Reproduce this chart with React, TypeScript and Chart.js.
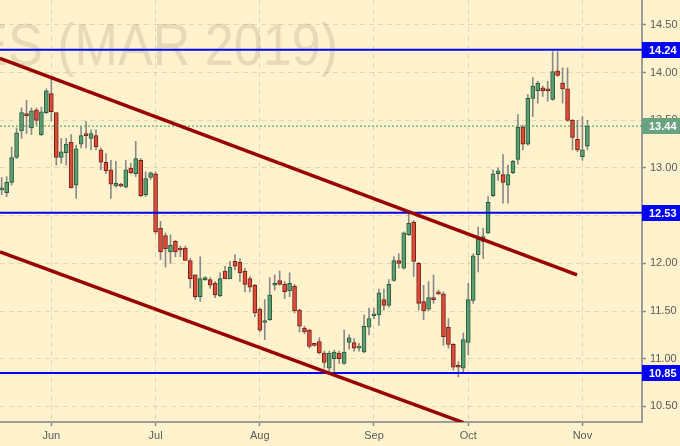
import React, { useEffect, useRef } from 'react';
import { Chart, registerables } from 'chart.js';

Chart.register(...registerables);

// Trading sessions: index 0 = 1 Jun 2018; the first visible session is 10 sessions earlier
const FIRST_SESSION = -10;

const opens = [
  12.77, 12.74, 12.85, 13.11, 13.39, 13.57, 13.42, 13.61, 13.35, 13.58,
  13.78, 13.58, 13.11, 13.16, 13.27, 12.82, 13.25, 13.36, 13.31, 13.34,
  13.19, 13.06, 12.98, 12.81, 12.82, 12.80, 13.00, 12.94, 13.08, 12.72,
  12.90, 12.94, 12.37, 12.29, 12.12, 12.23, 12.16, 12.16, 12.03, 11.88,
  11.65, 11.83, 11.83, 11.79, 11.66, 11.92, 11.84, 12.02, 12.01, 11.92,
  11.84, 11.77, 11.52, 11.38, 11.41, 11.77, 11.82, 11.78, 11.71, 11.76,
  11.51, 11.32, 11.30, 11.15, 11.18, 11.06, 10.90, 11.00, 11.06, 10.95,
  11.17, 11.17, 11.11, 11.07, 11.33, 11.45, 11.46, 11.62, 11.56, 11.82,
  12.03, 11.95, 12.30, 12.43, 12.00, 11.60, 11.52, 11.64, 11.70, 11.68,
  11.33, 11.15, 10.93, 10.90, 11.17, 11.61, 12.09, 12.23, 12.32, 12.71,
  12.94, 12.93, 12.82, 12.95, 13.09, 13.43, 13.25, 13.73, 13.81, 13.84,
  13.82, 13.72, 14.02, 13.89, 13.83, 13.50, 13.30, 13.12, 13.23,
];
const highs = [
  12.90, 12.91, 13.22, 13.42, 13.63, 13.71, 13.63, 13.63, 13.64, 13.83,
  13.93, 13.58, 13.31, 13.31, 13.35, 13.24, 13.43, 13.49, 13.40, 13.40,
  13.21, 13.15, 13.08, 13.07, 12.84, 13.08, 13.05, 13.28, 13.10, 12.96,
  12.96, 12.96, 12.44, 12.32, 12.30, 12.24, 12.18, 12.18, 12.05, 11.88,
  12.07, 11.86, 11.85, 11.81, 11.90, 11.97, 12.02, 12.09, 12.05, 11.95,
  11.86, 11.78, 11.53, 11.62, 11.85, 11.88, 11.92, 11.81, 11.90, 11.78,
  11.52, 11.34, 11.31, 11.16, 11.22, 11.08, 11.08, 11.09, 11.08, 11.30,
  11.25, 11.21, 11.16, 11.46, 11.53, 11.53, 11.73, 11.73, 11.83, 12.07,
  12.10, 12.33, 12.53, 12.45, 12.01, 11.77, 11.81, 11.88, 11.72, 11.70,
  11.42, 11.16, 10.97, 11.27, 11.79, 12.10, 12.38, 12.37, 12.70, 12.98,
  13.00, 13.14, 13.03, 13.08, 13.56, 13.45, 13.77, 13.95, 13.91, 13.86,
  13.91, 14.22, 14.22, 14.05, 14.05, 13.51, 13.50, 13.54, 13.50,
];
const lows = [
  12.72, 12.70, 12.82, 13.10, 13.31, 13.36, 13.35, 13.45, 13.34, 13.57,
  13.49, 13.03, 13.05, 13.03, 12.79, 12.68, 13.21, 13.21, 13.19, 13.19,
  12.98, 12.94, 12.68, 12.80, 12.80, 12.79, 12.94, 12.91, 12.70, 12.70,
  12.88, 12.31, 12.04, 11.96, 12.00, 12.07, 12.07, 12.03, 11.74, 11.62,
  11.60, 11.82, 11.74, 11.64, 11.65, 11.84, 11.84, 11.93, 11.81, 11.70,
  11.70, 11.44, 11.28, 11.20, 11.40, 11.72, 11.77, 11.63, 11.65, 11.48,
  11.28, 11.26, 11.11, 11.13, 11.05, 10.90, 10.86, 10.85, 10.95, 10.94,
  11.10, 11.08, 11.08, 11.06, 11.25, 11.42, 11.35, 11.51, 11.54, 11.81,
  11.95, 11.94, 12.29, 11.86, 11.51, 11.41, 11.50, 11.58, 11.67, 11.14,
  11.11, 10.88, 10.81, 10.85, 11.04, 11.58, 11.91, 12.05, 12.31, 12.70,
  12.87, 12.63, 12.63, 12.94, 13.04, 13.19, 13.24, 13.54, 13.68, 13.75,
  13.70, 13.71, 13.96, 13.68, 13.49, 13.19, 13.17, 13.08, 13.19,
];
const closes = [
  12.78, 12.85, 13.11, 13.37, 13.58, 13.55, 13.60, 13.50, 13.59, 13.81,
  13.59, 13.11, 13.17, 13.25, 12.79, 13.20, 13.34, 13.34, 13.36, 13.22,
  13.06, 12.97, 12.83, 12.84, 12.81, 12.98, 12.95, 13.10, 12.71, 12.89,
  12.95, 12.33, 12.12, 12.15, 12.19, 12.12, 12.14, 12.03, 11.84, 11.65,
  11.84, 11.84, 11.77, 11.67, 11.84, 11.84, 11.96, 11.97, 11.90, 11.78,
  11.75, 11.48, 11.30, 11.40, 11.67, 11.78, 11.78, 11.70, 11.79, 11.50,
  11.34, 11.28, 11.13, 11.14, 11.06, 10.96, 11.06, 11.07, 11.00, 11.07,
  11.22, 11.11, 11.13, 11.34, 11.42, 11.46, 11.69, 11.56, 11.78, 12.03,
  12.00, 12.32, 12.42, 12.02, 11.58, 11.50, 11.64, 11.62, 11.68, 11.23,
  11.15, 10.91, 10.91, 11.20, 11.62, 12.08, 12.26, 12.28, 12.64, 12.94,
  12.97, 12.85, 12.93, 13.07, 13.43, 13.25, 13.73, 13.86, 13.89, 13.81,
  13.81, 14.01, 13.97, 13.83, 13.50, 13.32, 13.19, 13.19, 13.44,
];

const monthTickIndex = [0, 21, 42, 65, 84, 107];
const monthLabels = ['Jun', 'Jul', 'Aug', 'Sep', 'Oct', 'Nov'];
const yTickValues = [10.5, 11.0, 11.5, 12.0, 12.5, 13.0, 13.5, 14.0, 14.5];

const levels = [14.24, 12.53, 10.85];
const lastPrice = 13.44;

const upperTrendX = [-10.34, 105.9];
const upperTrendY = [14.15, 11.88];
const lowerTrendX = [-10.34, 83.0];
const lowerTrendY = [12.12, 10.33];

const xRange = [-10.34, 119.0];
const yRange = [10.336, 14.762];

const watermark = 'ES (MAR 2019)';

const BG = '#FFF2CC';
const UP_FILL = '#5a9f74';
const UP_BORDER = '#2b5c3b';
const DN_FILL = '#d94b3a';
const DN_BORDER = '#7a2014';
const WICK = '#8a8a8a';
const BLUE = '#0000ff';
const TREND = '#990000';
const LAST_GREEN = '#69a27f';

export default function App() {
  const ref = useRef<HTMLCanvasElement | null>(null);

  useEffect(() => {
    const canvas = ref.current;
    if (!canvas) return;
    document.body.style.margin = '0';
    document.body.style.background = BG;

    const xs = opens.map((_, i) => i + FIRST_SESSION);
    const isUp = (i: number) => closes[i] >= opens[i];

    const bgPlugin = {
      id: 'bg',
      beforeDraw(chart: any) {
        const { ctx, width, height } = chart;
        ctx.save();
        ctx.fillStyle = BG;
        ctx.fillRect(0, 0, width, height);
        ctx.restore();
      },
    };

    const watermarkPlugin = {
      id: 'watermark',
      beforeDatasetsDraw(chart: any) {
        const { ctx, chartArea } = chart;
        ctx.save();
        ctx.beginPath();
        ctx.rect(chartArea.left, chartArea.top, chartArea.right - chartArea.left, chartArea.bottom - chartArea.top);
        ctx.clip();
        ctx.font = '60px "Liberation Sans", Arial, sans-serif';
        const tail = watermark.slice(1);
        const wTail = ctx.measureText(tail).width;
        const sx = 330 / wTail;
        ctx.translate(8, 0);
        ctx.scale(sx, 1);
        ctx.fillStyle = 'rgba(90,80,50,0.14)';
        ctx.textAlign = 'right';
        ctx.textBaseline = 'alphabetic';
        ctx.fillText(watermark, wTail, 65);
        ctx.restore();
      },
    };

    const labelPlugin = {
      id: 'priceLabels',
      afterDraw(chart: any) {
        const { ctx, chartArea, width } = chart;
        const yScale = chart.scales.y;
        const drawBox = (v: number, fill: string) => {
          const y = yScale.getPixelForValue(v);
          ctx.save();
          ctx.fillStyle = fill;
          ctx.fillRect(chartArea.right, Math.round(y) - 8, width - chartArea.right, 16);
          ctx.fillStyle = '#ffffff';
          ctx.font = 'bold 11px "Liberation Sans", Arial, sans-serif';
          ctx.textAlign = 'left';
          ctx.textBaseline = 'middle';
          ctx.fillText(v.toFixed(2), chartArea.right + 7, Math.round(y) + 0.5);
          ctx.restore();
        };
        levels.forEach((v) => drawBox(v, BLUE));
        drawBox(lastPrice, LAST_GREEN);
      },
    };

    const hLine = (v: number, color: string, width: number, dash: number[] = []) => ({
      type: 'line' as const,
      data: [
        { x: xRange[0], y: v },
        { x: xRange[1], y: v },
      ],
      borderColor: color,
      borderWidth: width,
      borderDash: dash,
      pointRadius: 0,
      order: 0,
    });

    const chart = new Chart(canvas, {
      type: 'bar',
      data: {
        datasets: [
          {
            type: 'line',
            data: upperTrendX.map((x, i) => ({ x, y: upperTrendY[i] })),
            borderColor: TREND,
            borderWidth: 3.5,
            pointRadius: 0,
            order: 0,
          },
          {
            type: 'line',
            data: lowerTrendX.map((x, i) => ({ x, y: lowerTrendY[i] })),
            borderColor: TREND,
            borderWidth: 3.5,
            pointRadius: 0,
            order: 0,
          },
          ...levels.map((v) => hLine(v, BLUE, 2)),
          hLine(lastPrice, '#2f9a5c', 1, [2, 2]),
          {
            type: 'bar',
            data: xs.map((x, i) => ({ x, y: [opens[i], closes[i]] })),
            backgroundColor: (c: any) => (isUp(c.dataIndex) ? UP_FILL : DN_FILL),
            borderColor: (c: any) => (isUp(c.dataIndex) ? UP_BORDER : DN_BORDER),
            borderWidth: 1,
            borderSkipped: false,
            barThickness: 4,
            minBarLength: 2,
            grouped: false,
            order: 1,
          },
          {
            type: 'bar',
            data: xs.map((x, i) => ({ x, y: [lows[i], highs[i]] })),
            backgroundColor: WICK,
            borderWidth: 0,
            barThickness: 1,
            grouped: false,
            order: 2,
          },
        ] as any,
      },
      options: {
        animation: false,
        responsive: false,
        layout: { padding: 0 },
        plugins: {
          legend: { display: false },
          tooltip: { enabled: false },
        },
        scales: {
          x: {
            type: 'linear',
            min: xRange[0],
            max: xRange[1],
            offset: false,
            afterBuildTicks: (s: any) => {
              s.ticks = monthTickIndex.map((v) => ({ value: v }));
            },
            afterFit: (s: any) => {
              s.height = 24;
              s.paddingLeft = 0;
              s.paddingRight = 0;
            },
            grid: {
              offset: false,
              color: 'rgba(0,0,0,0.11)',
              tickColor: '#8a8a8a',
              tickLength: 4,
              tickWidth: 1.5,
            },
            border: { display: true, color: '#9c9c9c', width: 2, dash: [5, 4] },
            ticks: {
              autoSkip: false,
              maxRotation: 0,
              padding: 3,
              color: '#5a5a5a',
              font: { family: '"Liberation Sans", Arial, sans-serif', size: 11 },
              callback: (v: any) => {
                const k = monthTickIndex.indexOf(Number(v));
                return k >= 0 ? monthLabels[k] : '';
              },
            },
          },
          y: {
            type: 'linear',
            position: 'right',
            min: yRange[0],
            max: yRange[1],
            afterBuildTicks: (s: any) => {
              s.ticks = yTickValues.map((v) => ({ value: v }));
            },
            afterFit: (s: any) => {
              s.width = 38;
              s.paddingTop = 0;
              s.paddingBottom = 0;
            },
            grid: {
              color: 'rgba(0,0,0,0.11)',
              tickColor: '#8a8a8a',
              tickLength: 4,
              tickWidth: 1.5,
            },
            border: { display: true, color: '#9c9c9c', width: 2, dash: [5, 4] },
            ticks: {
              padding: 4,
              color: '#5a5a5a',
              font: { family: '"Liberation Sans", Arial, sans-serif', size: 11 },
              callback: (v: any) => Number(v).toFixed(2),
            },
          },
        },
      } as any,
      plugins: [bgPlugin, watermarkPlugin, labelPlugin],
    });

    return () => chart.destroy();
  }, []);

  return (
    <div style={{ position: 'fixed', left: 0, top: 0, width: 680, height: 446, background: BG }}>
      <canvas ref={ref} width={680} height={446} style={{ display: 'block', width: 680, height: 446 }} />
    </div>
  );
}
